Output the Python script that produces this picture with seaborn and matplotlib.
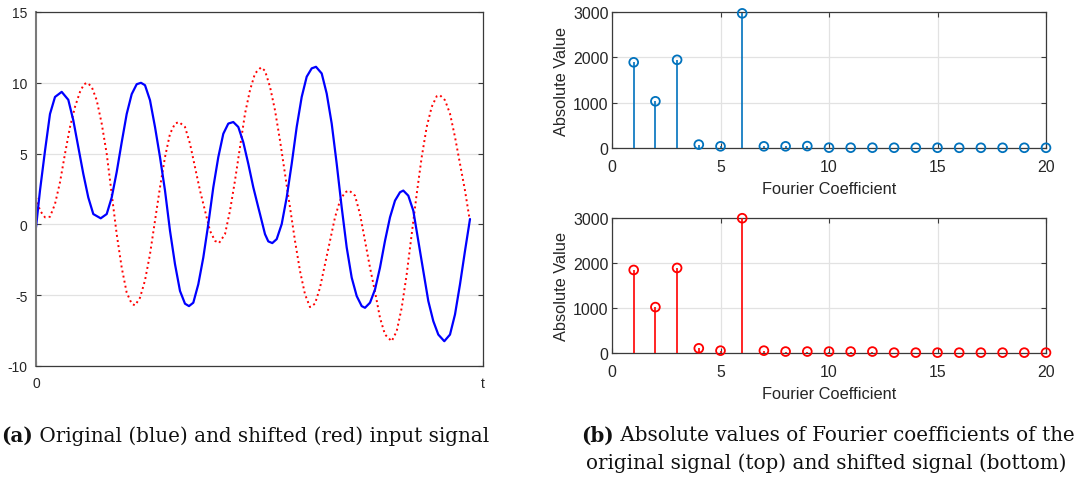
import numpy as np
import pandas as pd
import matplotlib
matplotlib.use("Agg")
import matplotlib.pyplot as plt
import seaborn as sns

# ---------------- data ----------------
# left panel: signal samples (t in arbitrary units, axis spans 0..447)
t_blue = [0, 4, 9, 14, 19, 25.7, 32.3, 37.3, 42.3, 47.3, 52.3, 57.3, 64.7, 70.7, 75.7,
          80.7, 85.7, 90.7, 95.7, 100.7, 105,
          109, 114, 119, 124, 129, 134, 139, 144, 149, 153, 157.3, 162.3, 167.3, 172.3,
          177.3, 182.3, 187.3, 192.3, 197.3, 202.3, 207.3, 212.3, 217.3, 222.3,
          224, 229, 232.3, 236.3, 240.7, 245.7, 250.7, 255.7, 260.7, 265.7, 270.7, 275.7,
          280, 285.7, 290.7, 295.7, 300.7, 305.7, 310.7, 315.7, 320.7, 325.7, 329, 334,
          339, 344, 349, 354, 359, 364, 367.3, 372.3, 377.3, 382.3, 387.3, 392.3, 397.3,
          402.3, 408.3, 414, 419, 424, 429, 434]
v_blue = [-0.21, 2.4, 5.2, 7.8, 9.0, 9.36, 8.8, 7.35, 5.46, 3.57, 1.9, 0.73, 0.43, 0.73, 1.9,
          3.7, 5.8, 7.8, 9.2, 9.9, 10.0,
          9.83, 8.77, 6.88, 4.75, 2.39, -0.45, -2.81, -4.7, -5.6, -5.77, -5.53, -4.23, -2.34, 0.02,
          2.62, 4.75, 6.4, 7.12, 7.23, 6.88, 5.8, 4.28, 2.62, 1.2,
          0.73, -0.69, -1.2, -1.32, -1.04, 0.02, 1.91, 4.28, 6.88, 9.0, 10.43, 11.02,
          11.13, 10.66, 9.24, 7.12, 4.28, 1.2, -1.63, -3.76, -5.06, -5.77, -5.89, -5.53,
          -4.6, -3.05, -1.16, 0.5, 1.68, 2.27, 2.39, 2.03, 0.97, -1.16, -3.29, -5.41, -6.83,
          -7.78, -8.25, -7.78, -6.36, -4.23, -1.87, 0.38]

t_red = [0, 4, 9, 14, 19, 24, 29, 34, 39, 44, 48, 51.3, 55.7, 60.7, 65.7, 70.7, 75.7, 80.7,
         85.7, 90.7, 95.7, 99, 104, 109, 114,
         119, 124, 129, 134, 139, 143, 149, 154, 159, 164, 169, 174, 179, 183, 189, 194, 199,
         204, 209, 214, 219, 225, 229,
         234, 239, 244, 249, 254, 259, 264, 269, 274, 279, 284, 289, 294, 299, 304, 309, 313.3,
         319, 324, 329, 334, 339, 344,
         349, 355.7, 360.7, 365.7, 370.7, 375.7, 380.7, 385.7, 390.7, 395.7, 400.7, 404, 409,
         414, 419, 424, 429, 433.3]
v_red = [1.9, 0.97, 0.5, 0.54, 1.44, 2.98, 4.99, 6.88, 8.3, 9.36, 9.9, 10.0, 9.72, 8.77, 7.12,
         4.99, 2.15, -0.69, -3.05, -4.82, -5.6, -5.72, -5.18, -3.95, -2.1,
         0.26, 2.62, 4.75, 6.4, 7.12, 7.23, 6.88, 5.7, 4.04, 2.39, 0.97, -0.45, -1.16, -1.32,
         -0.69, 0.97, 3.1, 5.46, 7.82, 9.48, 10.66, 11.09, 10.85,
         9.72, 8.06, 5.93, 3.57, 1.2, -1.16, -3.29, -4.94, -5.84, -5.6, -4.47, -2.81, -1.16,
         0.5, 1.68, 2.27, 2.39, 2.03, 0.73, -1.16, -3.05, -4.76, -6.6,
         -7.78, -8.25, -7.54, -5.89, -3.52, -0.69, 2.15, 4.75, 6.88, 8.3, 9.05, 9.12, 8.77,
         7.82, 6.17, 4.28, 2.39, 0.5]

# right panels: absolute Fourier coefficients 1..20
coef_k = list(range(1, 21))
abs_orig = [1890, 1030, 1945, 75, 37, 2970, 37, 37, 42, 8, 7, 7, 6, 6, 6, 5, 5, 5, 5, 5]
abs_shift = [1845, 1020, 1890, 104, 52, 2995, 52, 32, 32, 32, 32, 32, 8, 8, 8, 8, 8, 8, 8, 8]

left_yticks = [-10, -5, 0, 5, 10, 15]
left_xticklabels = ["0", "t"]
right_xticks = [0, 5, 10, 15, 20]
right_yticks = [0, 1000, 2000, 3000]

caption_a = [("(a)", "bold"), (" Original (blue) and shifted (red) input signal", "normal")]
caption_b1 = [("(b)", "bold"), (" Absolute values of Fourier coefficients of the", "normal")]
caption_b2 = [("original signal (top) and shifted signal (bottom)", "normal")]

# ---------------- style ----------------
sns.set_theme(style="white")
plt.rcParams["font.family"] = ["Liberation Sans", "DejaVu Sans"]
plt.rcParams["axes.unicode_minus"] = False

W, H = 1079, 485
fig = plt.figure(figsize=(W / 100, H / 100), dpi=100)
fig.patch.set_facecolor("white")

TXT = "#262626"
SPINE = "#3a3a3a"
GRID = "#e2e2e2"


def px_axes(l, t, r, b):
    return fig.add_axes([l / W, (H - b) / H, (r - l) / W, (b - t) / H])


def style_box(ax, fs):
    for s in ax.spines.values():
        s.set_visible(True)
        s.set_color(SPINE)
        s.set_linewidth(0.9)
    ax.tick_params(direction="in", length=3.5, width=0.8, colors=SPINE,
                   labelcolor=TXT, labelsize=fs, top=True, right=True,
                   bottom=True, left=True)
    ax.set_facecolor("white")


# ---------------- left panel ----------------
axL = px_axes(36, 13, 483, 367)
df_b = pd.DataFrame({"t": t_blue, "v": v_blue})
df_r = pd.DataFrame({"t": t_red, "v": v_red})
sns.lineplot(data=df_r, x="t", y="v", ax=axL, color="#ff0000", linewidth=1.4,
             linestyle=":", sort=False, estimator=None)
sns.lineplot(data=df_b, x="t", y="v", ax=axL, color="#0000ff", linewidth=1.6,
             sort=False, estimator=None)
axL.set_xlim(0, 447)
axL.set_ylim(-10, 15)
axL.set_xticks([0, 447])
axL.set_xticklabels(left_xticklabels)
axL.set_yticks(left_yticks)
axL.set_xlabel("")
axL.set_ylabel("")
style_box(axL, 10)
axL.spines["left"].set_color("#7a7a7a")
axL.spines["left"].set_linewidth(1.5)
axL.tick_params(axis="x", top=False, pad=7)
axL.tick_params(axis="y", pad=6)
axL.grid(axis="y", color=GRID, linewidth=0.9)
axL.set_axisbelow(True)

# ---------------- right panels ----------------
def stem_panel(ax, vals, color):
    ax.vlines(coef_k, 0, vals, color=color, linewidth=1.2, zorder=3)
    sns.scatterplot(x=coef_k, y=vals, ax=ax, marker="o", s=40, facecolor="none",
                    edgecolor=color, linewidth=1.3, zorder=4, clip_on=False)
    ax.set_xlim(0, 20)
    ax.set_ylim(0, 3000)
    ax.set_xticks(right_xticks)
    ax.set_yticks(right_yticks)
    style_box(ax, 11.4)
    ax.tick_params(axis="y", pad=2.5)
    ax.tick_params(axis="x", pad=8)
    ax.grid(True, color=GRID, linewidth=0.9)
    ax.set_axisbelow(True)
    ax.set_xlabel("Fourier Coefficient", fontsize=11.8, color=TXT, labelpad=5)
    ax.set_ylabel("Absolute Value", fontsize=11.8, color=TXT, labelpad=3)


axT = px_axes(612, 13, 1046, 149)
stem_panel(axT, abs_orig, "#0072BD")
axB = px_axes(612, 219, 1046, 354)
stem_panel(axB, abs_shift, "#ff0000")

# ---------------- captions ----------------
renderer = fig.canvas.get_renderer()
CAP_FONT = ["DejaVu Serif"]


def make_parts(parts, yc, fs):
    return [fig.text(0, 1 - yc / H, s, fontsize=fs, fontweight=w, family=CAP_FONT,
                     color="#111111", va="center", ha="left") for s, w in parts]


def widths_of(texts):
    return [t.get_window_extent(renderer).width for t in texts]


# one caption size, chosen so caption (a) is as wide as in the reference
probe = make_parts(caption_a, 436, 14)
cap_fs = 14 * 490 / sum(widths_of(probe))
for t in probe:
    t.remove()


def caption(parts, xc, yc):
    texts = make_parts(parts, yc, cap_fs)
    ws = widths_of(texts)
    x0 = xc - sum(ws) / 2
    for t, w in zip(texts, ws):
        t.set_x(x0 / W)
        x0 += w


caption(caption_a, 245, 436)
caption(caption_b1, 828, 436)
caption(caption_b2, 826, 463)

fig.savefig("out.png", dpi=100, facecolor="white")
